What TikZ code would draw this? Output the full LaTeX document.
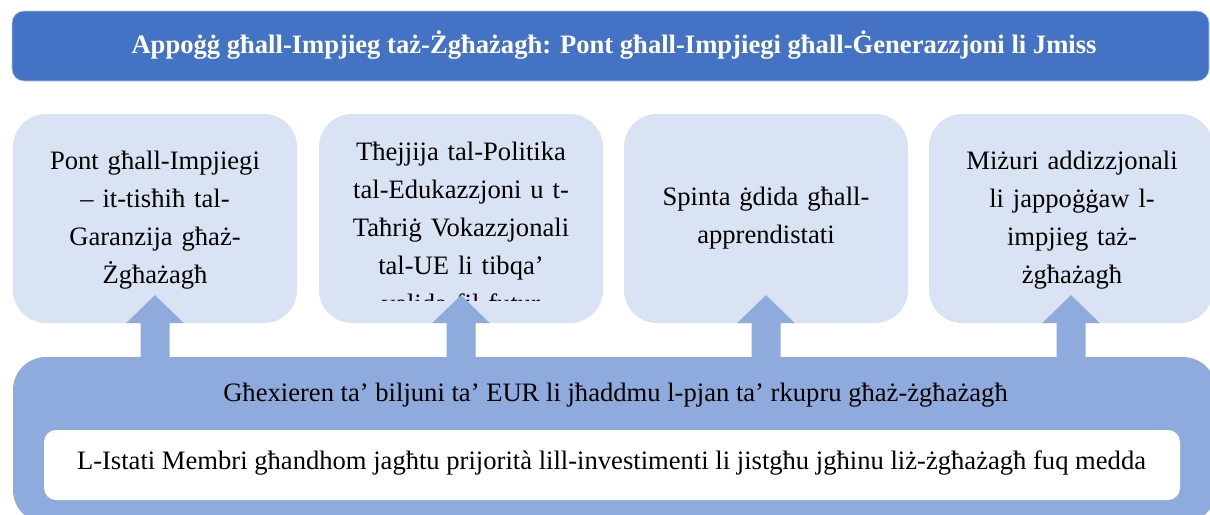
\documentclass[tikz,border=0pt]{standalone}
\usepackage{fontspec}
\setmainfont{Liberation Serif}
\usetikzlibrary{calc}
\definecolor{titleblue}{HTML}{4472C4}
\definecolor{lightbox}{HTML}{DAE3F3}
\definecolor{midblue}{HTML}{8FAADC}
\definecolor{titleedge}{HTML}{B4C5E6}
\begin{document}
\begin{tikzpicture}[x=1pt,y=-1pt,
  titlebar/.style={fill=titleblue, draw=titleedge, line width=0.6pt, rounded corners=12pt, minimum width=1197pt, minimum height=70pt, inner sep=0pt},
  topbox/.style={fill=lightbox, rounded corners=33pt, minimum width=284pt, minimum height=209pt, inner sep=0pt},
  basebox/.style={fill=midblue, rounded corners=33pt, minimum width=1203pt, minimum height=166pt, inner sep=0pt},
  whitebox/.style={fill=white, rounded corners=12pt, minimum width=1136pt, minimum height=70pt, inner sep=0pt},
  boxtext/.style={font=\fontsize{26.6}{38}\selectfont, text width=280pt, align=center, inner sep=0pt, anchor=base},
  linetext/.style={font=\fontsize{26.6}{38}\selectfont, inner sep=0pt, anchor=base},
  titletext/.style={font=\fontsize{26.6}{30}\selectfont\bfseries, text=white, inner sep=0pt, anchor=base},
  uparrow/.style={fill=midblue}
]
\useasboundingbox (0,0) rectangle (1210,514);
\clip (0,0) rectangle (1210,514);

% title
\node[titlebar] (title) at (610.5,46) {};
\node[titletext] (titlet) at (614,53) {Appoġġ għall-Impjieg taż-Żgħażagħ: Pont għall-Impjiegi għall-Ġenerazzjoni li Jmiss};

% base
\node[basebox] (base) at (614.5,440) {};
\node[whitebox] (inner) at (612,465) {};
\node[linetext] (baset) at (615.5,401) {Għexieren ta’ biljuni ta’ EUR li jħaddmu l-pjan ta’ rkupru għaż-żgħażagħ};
\node[linetext] (innert) at (611.5,469) {L-Istati Membri għandhom jagħtu prijorità lill-investimenti li jistgħu jgħinu liż-żgħażagħ fuq medda};

% top boxes
\node[topbox] (b1) at (155,218.5) {};
\node[topbox] (b2) at (461,218.5) {};
\node[topbox] (b3) at (766,218.5) {};
\node[topbox] (b4) at (1071,218.5) {};

\node[boxtext] (t1) at (155,169) {Pont għall-Impjiegi\\– it-tisħiħ tal-\\Garanzija għaż-\\Żgħażagħ};
\begin{scope}
\clip (319,114) rectangle (603,300);
\node[boxtext] (t2) at (461,160) {Tħejjija tal-Politika\\tal-Edukazzjoni u t-\\Taħriġ Vokazzjonali\\tal-UE li tibqa’\\valida fil-futur};
\end{scope}
\node[boxtext] (t3) at (766,205) {Spinta ġdida għall-\\apprendistati};
\node[boxtext] (t4) at (1072,169) {Miżuri addizzjonali\\li jappoġġaw l-\\impjieg taż-\\żgħażagħ};

% arrows from base to boxes
\foreach \b in {b1,b2,b3,b4}{
  \fill[uparrow] ($(\b.south)+(0,-28)$) -- ($(\b.south)+(29,0)$) -- ($(\b.south)+(14.5,0)$)
    -- ($(\b.south)+(14.5,36)$) -- ($(\b.south)+(-14.5,36)$) -- ($(\b.south)+(-14.5,0)$)
    -- ($(\b.south)+(-29,0)$) -- cycle;
}
\end{tikzpicture}
\end{document}
